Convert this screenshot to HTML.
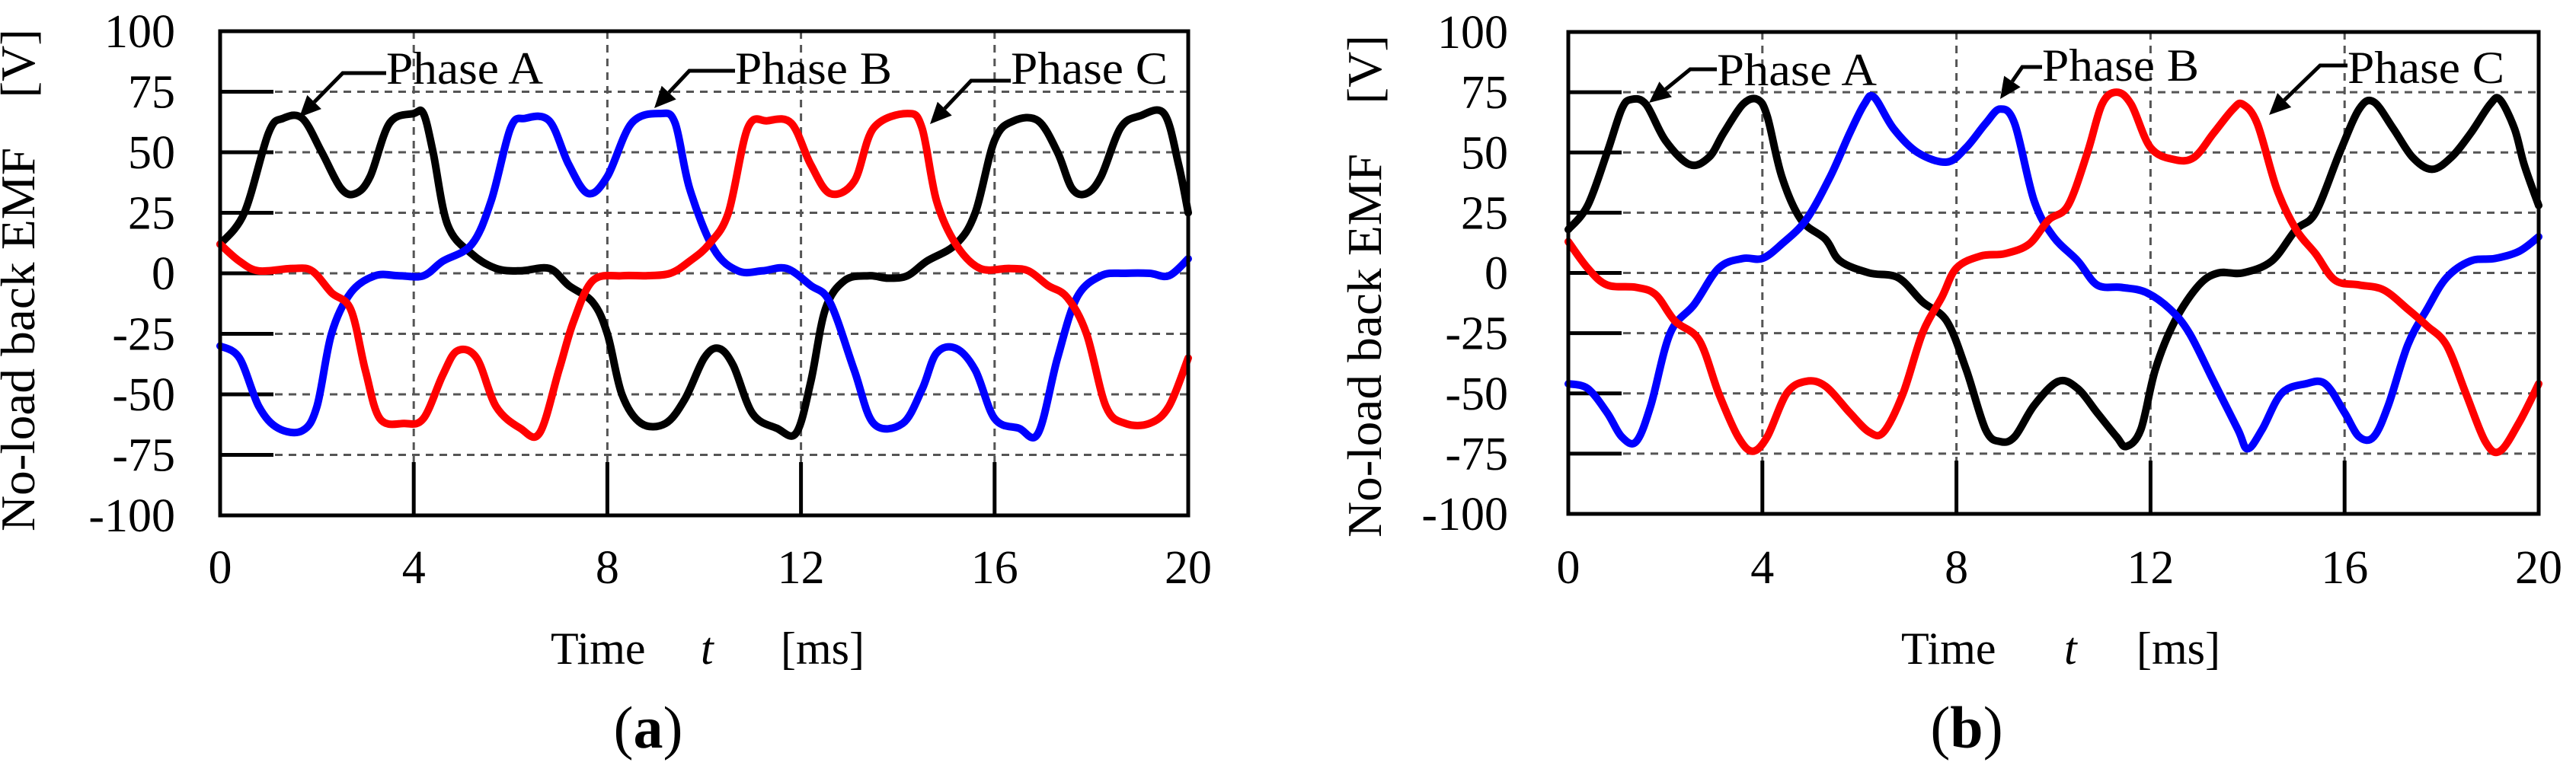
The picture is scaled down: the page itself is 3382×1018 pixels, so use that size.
<!DOCTYPE html>
<html><head><meta charset="utf-8"><style>
html,body{margin:0;padding:0;background:#fff;}
svg{display:block;}
text{font-family:"Liberation Serif",serif;fill:#000;}
</style></head><body>
<svg id="fig" width="3382" height="1018" viewBox="0 0 3382 1018" xmlns="http://www.w3.org/2000/svg">
</svg>
<script>
// ---- data (panel a) ----
const aTimeA=[0,0.5,1,1.3,1.7,2.1,2.5,2.8,3.1,3.5,4,4.2,4.4,4.7,5.2,5.7,6.2,6.8,7.2,7.7,8,8.3,8.7,9.2,9.6,10,10.3,10.6,11,11.5,11.9,12.2,12.5,12.9,13.4,13.8,14.2,14.6,15.2,15.6,16,16.4,16.9,17.3,17.6,17.9,18.2,18.6,19,19.5,19.8,20];
const aPhaseA=[12,25,58,64,64,50,35,33,40,62,66,66,50,20,8,2,1,2,-5,-12,-25,-50,-62,-62,-52,-35,-31,-38,-58,-64,-66,-45,-15,-3,-1,-2,-1,5,12,25,55,63,63,50,35,33,40,60,65,66,45,25];
const aTimeB=[0,0.4,0.8,1.2,1.7,2,2.3,2.7,3.2,3.7,4.2,4.6,5.2,5.6,6,6.3,6.8,7.2,7.6,8,8.5,9.1,9.4,9.7,10.2,10.7,11.2,11.7,12.2,12.6,13.1,13.5,14.1,14.5,14.8,15.2,15.6,16,16.5,16.9,17.3,17.7,18.2,18.7,19.2,19.6,20];
const aPhaseB=[-30,-35,-55,-64,-65,-55,-25,-8,-1,-1,-1,5,12,30,60,64,63,45,33,40,62,66,62,35,10,1,1,2,-5,-12,-40,-62,-62,-48,-33,-31,-40,-60,-64,-66,-35,-10,-1,0,0,-1,6];
const aTimeC=[0,0.4,0.8,1.5,1.9,2.3,2.7,3,3.3,3.8,4.2,4.6,4.9,5.3,5.7,6.2,6.6,7,7.3,7.7,8.3,8.8,9.3,9.7,10.1,10.5,10.9,11.3,11.8,12.2,12.6,13.1,13.5,14.2,14.5,14.8,15.2,15.7,16.3,16.7,17.1,17.5,17.9,18.3,18.7,19.2,19.6,20];
const aPhaseC=[12,5,1,2,1,-8,-15,-40,-60,-62,-60,-42,-32,-35,-55,-64,-66,-40,-20,-3,-1,-1,0,5,12,25,60,63,62,45,33,38,60,66,60,30,12,2,2,1,-5,-10,-25,-55,-62,-62,-55,-35];
// ---- data (panel b) ----
const bTimeA=[0,0.4,0.8,1.1,1.3,1.6,2,2.5,2.9,3.2,3.6,3.9,4.1,4.4,4.8,5.3,5.6,6.2,6.8,7.3,7.8,8.2,8.6,8.9,9.2,9.6,10.1,10.5,10.9,11.3,11.5,11.8,12.1,12.5,13,13.4,13.9,14.5,15,15.4,15.9,16.3,16.6,17,17.4,17.8,18.2,18.6,19,19.2,19.5,19.7,20];
const bPhaseA=[18,28,50,68,72,70,55,45,48,58,70,72,65,40,22,14,5,0,-2,-12,-20,-40,-65,-70,-68,-55,-45,-48,-58,-68,-72,-65,-40,-20,-5,0,0,5,18,25,50,68,71,60,48,43,48,58,70,72,60,45,28];
const bTimeB=[0,0.4,0.8,1.1,1.4,1.7,2.1,2.6,3.1,3.6,4,4.4,4.9,5.4,5.8,6.1,6.3,6.7,7.2,7.8,8.2,8.6,8.9,9.2,9.6,10,10.5,10.9,11.4,11.9,12.4,12.8,13.3,13.8,14,14.3,14.7,15.2,15.6,16,16.3,16.6,16.9,17.3,17.7,18.1,18.6,19.1,19.6,20];
const bPhaseB=[-46,-48,-58,-68,-70,-55,-25,-13,2,6,6,12,22,40,58,70,73,60,50,46,52,62,68,62,30,15,5,-5,-6,-8,-15,-25,-45,-65,-73,-65,-50,-46,-46,-58,-68,-68,-55,-30,-15,-2,5,6,9,15];
const bTimeC=[0,0.4,0.8,1.4,1.8,2.2,2.7,3.1,3.5,3.8,4.1,4.5,4.9,5.3,5.8,6.2,6.5,6.9,7.3,7.7,8,8.5,9,9.5,9.9,10.3,10.7,11,11.3,11.6,12,12.5,12.9,13.3,13.7,13.9,14.2,14.6,15,15.4,15.8,16.3,16.8,17.3,17.7,18.1,18.5,18.9,19.2,19.6,20];
const bPhaseC=[13,2,-5,-6,-9,-20,-28,-50,-68,-74,-68,-50,-45,-47,-58,-66,-66,-50,-25,-10,2,7,8,12,22,28,50,70,75,70,52,47,48,58,68,70,62,35,18,8,-3,-5,-7,-15,-22,-30,-50,-70,-74,-62,-46];
// ---- axis tick labels ----
const xTicks=[0,4,8,12,16,20];
const yTicks=[100,75,50,25,0,-25,-50,-75,-100];
const yTickLabels=["100","75","50","25","0","-25","-50","-75","-100"];

const NS="http://www.w3.org/2000/svg";
const svg=document.getElementById('fig');
function mk(tag,attrs,parent){const e=document.createElementNS(NS,tag);for(const k in attrs)e.setAttribute(k,attrs[k]);(parent||svg).appendChild(e);return e;}

function smoothPath(pts){
  let d='M'+pts[0][0].toFixed(1)+','+pts[0][1].toFixed(1);
  for(let i=0;i<pts.length-1;i++){
    const p0=pts[Math.max(0,i-1)],p1=pts[i],p2=pts[i+1],p3=pts[Math.min(pts.length-1,i+2)];
    const c1=[p1[0]+(p2[0]-p0[0])/6,p1[1]+(p2[1]-p0[1])/6];
    const c2=[p2[0]-(p3[0]-p1[0])/6,p2[1]-(p3[1]-p1[1])/6];
    d+=' C'+c1[0].toFixed(1)+','+c1[1].toFixed(1)+' '+c2[0].toFixed(1)+','+c2[1].toFixed(1)+' '+p2[0].toFixed(1)+','+p2[1].toFixed(1);
  }
  return d;
}

function panel(cfg){
  const g=mk('g',{});
  
  
  const X=t=>cfg.L+(t-0)/20*(cfg.R-cfg.L);
  const Y=v=>cfg.T+(100-v)/200*(cfg.B-cfg.T);
  yTicks.forEach((v,i)=>{
    if(v===100||v===-100)return;
    const l=mk('line',{x1:cfg.L,x2:cfg.R,y1:Y(v),y2:Y(v),stroke:'#555','stroke-width':3,'stroke-dasharray':'10 8'},g);
    
    
    const t=mk('line',{x1:cfg.L,x2:cfg.L+70,y1:Y(v),y2:Y(v),stroke:'#000','stroke-width':5},g);
    
    
  });
  xTicks.forEach(v=>{
    if(v===0||v===20)return;
    const l=mk('line',{x1:X(v),x2:X(v),y1:cfg.T,y2:cfg.B,stroke:'#555','stroke-width':3,'stroke-dasharray':'10 8'},g);
    
    
    const t=mk('line',{x1:X(v),x2:X(v),y1:cfg.B-70,y2:cfg.B,stroke:'#000','stroke-width':5},g);
    
    
  });
  cfg.series.forEach(s=>{
    const pts=s.t.map((t,i)=>[X(t),Y(s.v[i])]);
    const p=mk('path',{d:smoothPath(pts),fill:'none',stroke:s.color,'stroke-width':10,'stroke-linejoin':'round','stroke-linecap':'round'},g);
    
    
  });
  const f=mk('rect',{x:cfg.L,y:cfg.T,width:cfg.R-cfg.L,height:cfg.B-cfg.T,fill:'none',stroke:'#000','stroke-width':5},g);
  
  
  yTicks.forEach((v,i)=>{
    const t=mk('text',{x:cfg.yLabRight,y:Y(v)+21,'text-anchor':'end','font-size':62},g);
    t.textContent=yTickLabels[i];
    
    
  });
  xTicks.forEach(v=>{
    const t=mk('text',{x:X(v),y:766,'text-anchor':'middle','font-size':62},g);
    t.textContent=String(v);
    
    
  });
  const yt=mk('text',{x:0,y:0,'text-anchor':'middle','font-size':64,style:'white-space:pre;','textLength':660,'lengthAdjust':'spacingAndGlyphs',transform:'translate('+(cfg.yTitleX+22)+','+cfg.yTitleY+') rotate(-90)'},g);
  yt.textContent='No-load back EMF    [V]';
  
  
  const xt=mk('g',{},g);
  
  
  const t1=mk('text',{x:cfg.time[0],y:872,'font-size':60},xt);t1.textContent='Time';
  const t2=mk('text',{x:cfg.time[1],y:872,'font-size':60,'font-style':'italic'},xt);t2.textContent='t';
  const t3=mk('text',{x:cfg.time[2],y:872,'font-size':60},xt);t3.textContent='[ms]';
  const pl=mk('text',{x:cfg.labX,y:982,'text-anchor':'middle','font-size':78},g);
  
  
  const ts1=mk('tspan',{},pl);ts1.textContent='(';
  const ts2=mk('tspan',{'font-weight':'bold'},pl);ts2.textContent=cfg.lab;
  const ts3=mk('tspan',{},pl);ts3.textContent=')';
  cfg.ann.forEach(a=>{
    const ag=mk('g',{},g);
    
    
    const dx=a.kx-a.tx,dy=a.ky-a.ty,len=Math.hypot(dx,dy),ux=dx/len,uy=dy/len;
    const bx=a.tx+ux*28,by=a.ty+uy*28;
    mk('polyline',{points:a.hx+','+a.ky+' '+a.kx+','+a.ky+' '+bx+','+by,fill:'none',stroke:'#000','stroke-width':5},ag);
    mk('polygon',{points:a.tx+','+a.ty+' '+(bx-uy*13)+','+(by+ux*13)+' '+(bx+uy*13)+','+(by-ux*13),fill:'#000'},ag);
    const tt=mk('text',{x:a.textX,y:a.textY,'font-size':60,'textLength':a.w,'lengthAdjust':'spacingAndGlyphs'},ag);
    tt.textContent=a.label;
  });
}

panel({name:'panel-a',L:289,R:1560,T:41,B:677,yLabRight:230,yTitleX:23,yTitleY:368,time:[723,920,1025],labX:851,lab:'a',
  series:[{name:'phase-a-line',t:aTimeA,v:aPhaseA,color:'#000'},{name:'phase-b-line',t:aTimeB,v:aPhaseB,color:'#0000ff'},{name:'phase-c-line',t:aTimeC,v:aPhaseC,color:'#ff0000'}],
  ann:[{label:'Phase A',textX:507,textY:110,w:206,hx:507,kx:450,ky:96,tx:393,ty:154},
       {label:'Phase B',textX:965,textY:110,w:206,hx:965,kx:905,ky:93,tx:859,ty:142},
       {label:'Phase C',textX:1327,textY:110,w:206,hx:1327,kx:1275,ky:106,tx:1221,ty:163}]});
panel({name:'panel-b',L:2059,R:3333,T:42,B:675,yLabRight:1980,yTitleX:1791,yTitleY:376,time:[2496,2710,2805],labX:2582,lab:'b',
  series:[{name:'phase-a-line',t:bTimeA,v:bPhaseA,color:'#000'},{name:'phase-b-line',t:bTimeB,v:bPhaseB,color:'#0000ff'},{name:'phase-c-line',t:bTimeC,v:bPhaseC,color:'#ff0000'}],
  ann:[{label:'Phase A',textX:2254,textY:112,w:210,hx:2254,kx:2219,ky:91,tx:2165,ty:135},
       {label:'Phase B',textX:2681,textY:106,w:206,hx:2681,kx:2655,ky:88,tx:2626,ty:130},
       {label:'Phase C',textX:3082,textY:109,w:206,hx:3082,kx:3046,ky:86,tx:2979,ty:151}]});
</script>
</body></html>
